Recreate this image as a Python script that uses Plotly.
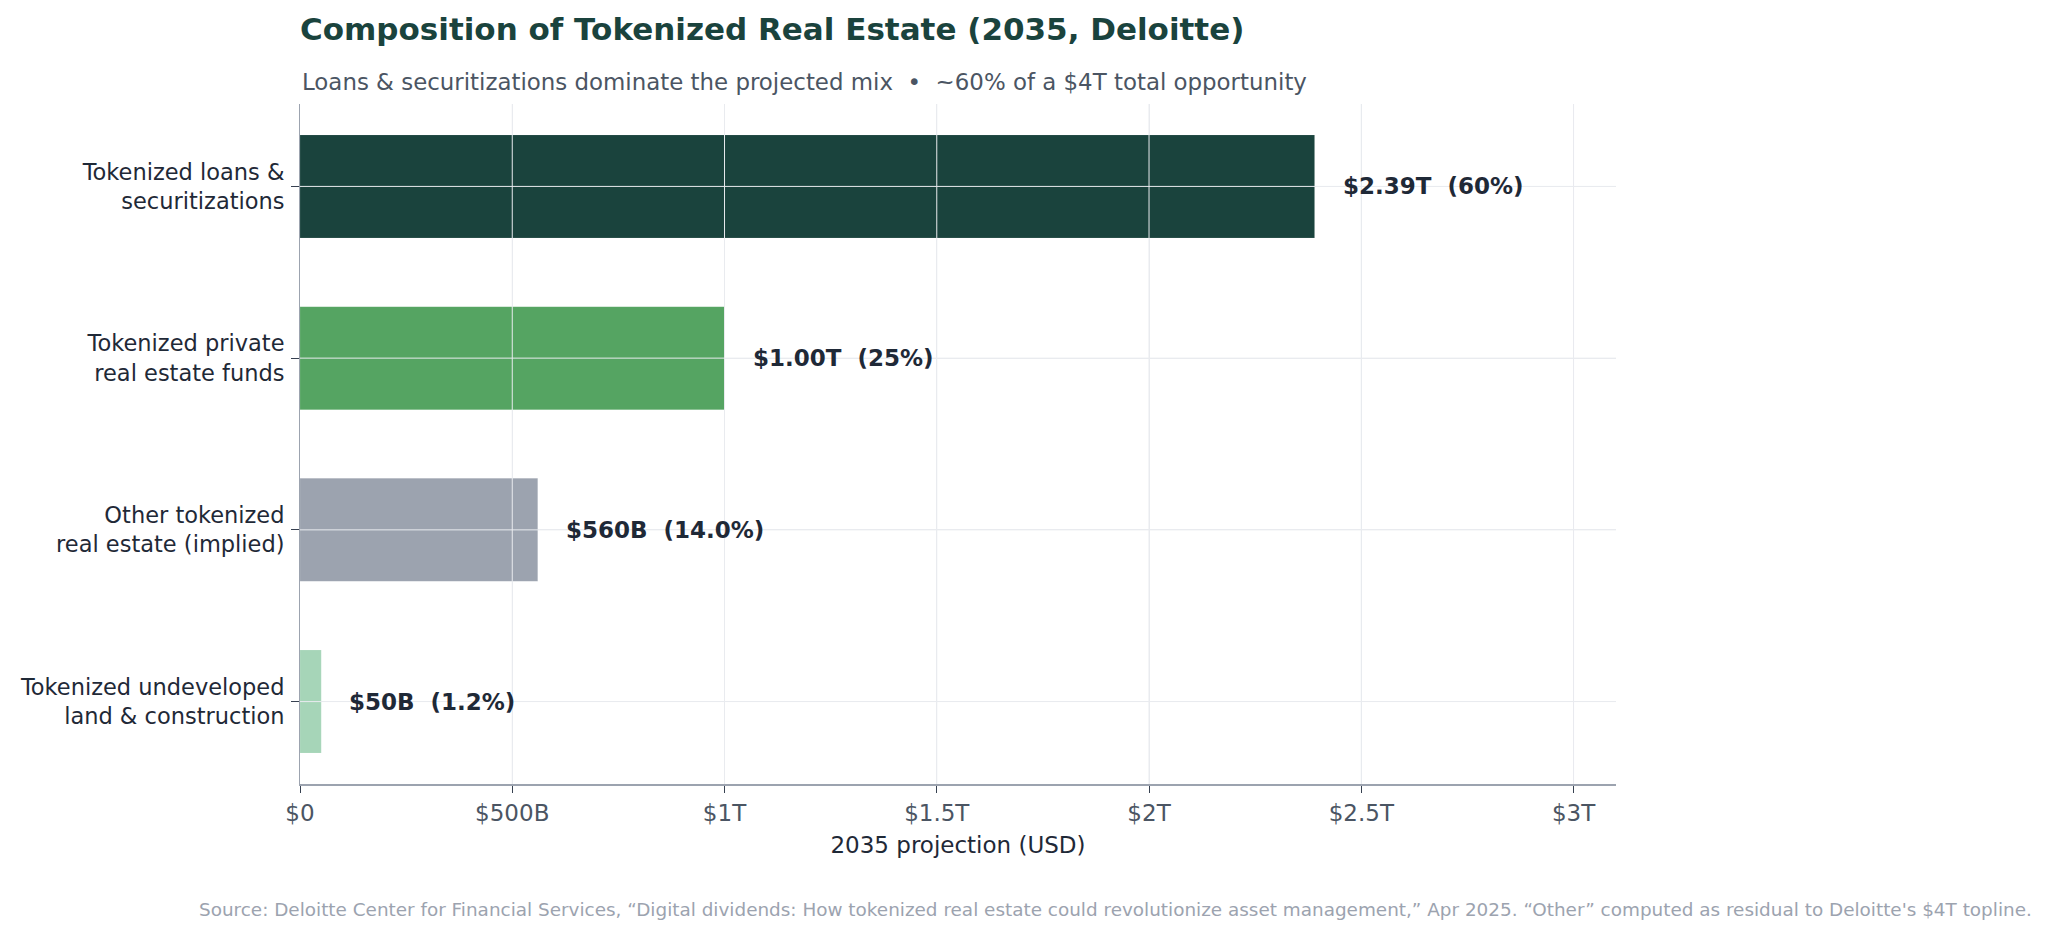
# Composition of tokenized real estate, 2035 (Deloitte) - horizontal bars

import plotly.graph_objects as go

# datos
categorias = ["Tokenized loans &<br>securitizations",
              "Tokenized private<br>real estate funds",
              "Other tokenized<br>real estate (implied)",
              "Tokenized undeveloped<br>land & construction"]
valores = [2.39e12, 1.00e12, 0.56e12, 0.05e12]
etiquetas = ["$2.39T  (60%)", "$1.00T  (25%)", "$560B  (14.0%)", "$50B  (1.2%)"]
colores = ["#1a433d", "#55a462", "#9ca3af", "#a6d5b8"]

tick_vals = [0, 0.5e12, 1.0e12, 1.5e12, 2.0e12, 2.5e12, 3.0e12]
tick_text = ["$0", "$500B", "$1T", "$1.5T", "$2T", "$2.5T", "$3T"]

fuente = ("Source: Deloitte Center for Financial Services, \u201cDigital dividends: How tokenized real estate "
          "could revolutionize asset management,\u201d Apr 2025. \u201cOther\u201d computed as residual to "
          "Deloitte's $4T topline.")

FONT = "DejaVu Sans"
GRID = "#e9ebef"

fig = go.Figure(go.Bar(x=valores, y=categorias, orientation="h",
                       marker=dict(color=colores, line=dict(width=1, color="rgba(255,255,255,0.12)")),
                       hoverinfo="skip", showlegend=False))

# rejilla por encima de las barras (como en el original)
for tv in tick_vals[1:]:
    fig.add_shape(type="line", xref="x", yref="y domain", x0=tv, x1=tv, y0=0, y1=1,
                  line=dict(color=GRID, width=1), layer="above")
for cat in categorias:
    fig.add_shape(type="line", xref="x domain", yref="y", x0=0, x1=1, y0=cat, y1=cat,
                  line=dict(color=GRID, width=1), layer="above")

# etiquetas al final de cada barra
for cat, val, txt in zip(categorias, valores, etiquetas):
    fig.add_annotation(x=val, y=cat, text="<b>" + txt + "</b>", showarrow=False,
                       xanchor="left", xshift=26,
                       font=dict(family=FONT, size=23, color="#1f2937"))

fig.add_annotation(xref="paper", yref="paper", x=0, y=1.032, xanchor="left", yanchor="middle",
                   text="Loans & securitizations dominate the projected mix  \u2022  ~60% of a $4T total opportunity",
                   showarrow=False, font=dict(family=FONT, size=22.9, color="#4b5563"))

fig.add_annotation(xref="paper", yref="paper", x=1.3176, y=-0.185, xanchor="right", yanchor="middle",
                   text=fuente, showarrow=False, font=dict(family=FONT, size=18.4, color="#9ca3af"))

fig.update_layout(
    width=2031, height=921,
    margin=dict(l=292, r=423, t=96, b=145),
    paper_bgcolor="white", plot_bgcolor="white",
    bargap=0.4,
    font=dict(family=FONT, size=23, color="#1f2937"),
    title=dict(text="<b>Composition of Tokenized Real Estate (2035, Deloitte)</b>",
               x=0, xref="paper", xanchor="left",
               y=1 - 21 / 921, yref="container", yanchor="middle",
               font=dict(family=FONT, size=31, color="#1a433d")),
)

fig.update_xaxes(range=[0, 3.1e12], tickvals=tick_vals, ticktext=tick_text,
                 showgrid=True, gridcolor=GRID, gridwidth=1,
                 showline=True, linecolor="#9ca3af", linewidth=2,
                 ticks="outside", ticklen=7, tickcolor="#374151",
                 tickfont=dict(family=FONT, size=23, color="#4b5563"),
                 title=dict(text="2035 projection (USD)", standoff=12,
                            font=dict(family=FONT, size=23, color="#1f2937")),
                 zeroline=False, layer="above traces", automargin=False)

fig.update_yaxes(range=[3.48, -0.48], showgrid=True, gridcolor=GRID, gridwidth=1,
                 showline=True, linecolor="#9ca3af", linewidth=1,
                 ticks="outside", ticklen=8, tickcolor="#374151", ticklabelstandoff=2,
                 tickfont=dict(family=FONT, size=22.5, color="#1f2937"),
                 layer="above traces", automargin=False)

fig.write_html("out.html")
